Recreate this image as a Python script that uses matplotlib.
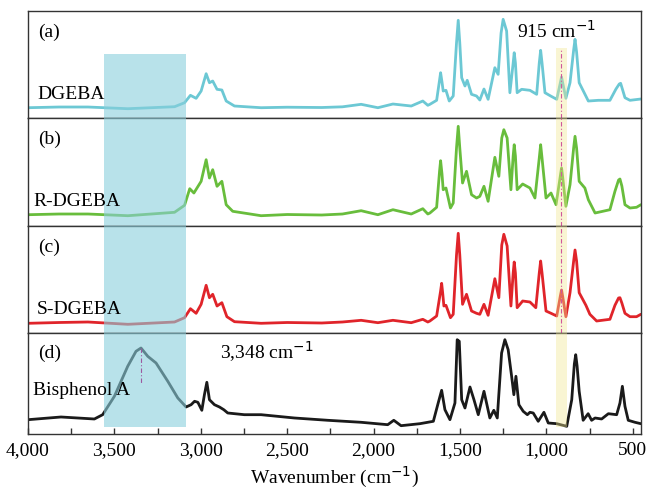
import numpy as np
import matplotlib.pyplot as plt
from matplotlib.ticker import MultipleLocator, FuncFormatter

# FT-IR spectra: (wavenumber cm-1, intensity a.u.)
dgeba = [(4000, 10.3), (3820, 11), (3653, 11), (3422, 9.3), (3152, 11.3), (3094, 15.3),
         (3060, 22.7), (3027, 19.7), (2998, 27), (2969, 44.3), (2950, 35.3), (2931, 37),
         (2906, 28.7), (2878, 28), (2853, 17), (2805, 12), (2651, 10.3), (2500, 10.8),
         (2300, 10.5), (2180, 11.2), (2072, 13.7), (1975, 10.3), (1888, 14), (1782, 12),
         (1715, 17), (1686, 12.7), (1674, 13.7), (1635, 17.7), (1618, 38), (1612, 45.3),
         (1604, 36), (1597, 27), (1581, 27.7), (1562, 17), (1539, 22), (1520, 75), (1510, 97.7),
         (1501, 75), (1490, 40.3), (1471, 32), (1458, 37.7), (1433, 23.7), (1404, 22),
         (1385, 18), (1361, 29), (1337, 18.7), (1298, 50.3), (1279, 43.7), (1262, 85),
         (1250, 98.7), (1230, 87), (1211, 25.3), (1192, 55), (1186, 65.3), (1179, 55),
         (1169, 25.3), (1143, 28.7), (1095, 27.7), (1056, 23.7), (1041, 55), (1033, 67.7),
         (1025, 55), (1008, 25.3), (975, 22), (940, 18.7), (918, 36), (912, 41), (904, 34),
         (887, 19.7), (863, 35.3), (842, 68), (834, 78.7), (825, 66), (810, 35.3), (781, 25.3),
         (757, 17), (699, 17.7), (632, 17.7), (597, 29), (578, 34), (570, 34.7), (560, 29),
         (545, 20.3), (516, 17.7), (468, 18.7), (453, 19)]

r_dgeba = [(4000, 11.3), (3820, 12), (3653, 12), (3422, 10.3), (3152, 13.7), (3094, 20.7),
           (3064, 37.3), (3040, 33), (2998, 44.7), (2969, 66.3), (2950, 48), (2931, 56.3),
           (2906, 39.7), (2878, 44.7), (2853, 21.3), (2815, 14.7), (2651, 10.3), (2500, 11.5),
           (2300, 11), (2180, 12), (2072, 15.3), (1975, 11.3), (1888, 16.3), (1782, 12),
           (1715, 17.3), (1686, 12), (1674, 13), (1635, 18.7), (1618, 55), (1612, 65.3),
           (1604, 52), (1597, 36.3), (1581, 38), (1555, 18), (1539, 23), (1520, 78), (1510, 99.7),
           (1501, 78), (1485, 43), (1462, 54.7), (1433, 31.3), (1404, 28), (1385, 29.7),
           (1361, 39.7), (1337, 24.7), (1298, 68.7), (1275, 49.7), (1258, 88), (1246, 96.3),
           (1227, 88), (1205, 36.3), (1192, 70), (1186, 81.3), (1179, 70), (1169, 36.3),
           (1137, 42), (1095, 38), (1066, 28), (1041, 68), (1033, 81.3), (1025, 68), (1002, 28),
           (973, 33), (944, 21.3), (919, 50), (912, 58), (905, 48), (887, 19.7), (863, 41.3),
           (842, 78), (834, 89.7), (825, 78), (810, 44.7), (777, 38), (757, 26.3), (718, 13),
           (632, 16.3), (603, 34.7), (582, 46), (574, 47), (563, 40), (545, 21.3), (516, 18),
           (478, 18.7), (453, 21.3)]

s_dgeba = [(4000, 9.7), (3820, 10.5), (3653, 11), (3422, 8.7), (3152, 11), (3094, 15.3),
           (3060, 24.3), (3027, 19.7), (2998, 28.7), (2969, 47.7), (2950, 35.3), (2931, 38.7),
           (2906, 27), (2878, 30.3), (2849, 16.3), (2805, 11.3), (2651, 9.7), (2500, 10.5),
           (2300, 10), (2180, 11), (2072, 12.7), (1975, 10.3), (1888, 12.7), (1782, 10.3),
           (1715, 13.7), (1686, 11), (1674, 12), (1635, 17), (1612, 42), (1606, 49.7), (1600, 40),
           (1593, 27), (1581, 27.7), (1555, 15.3), (1539, 18.7), (1520, 78), (1510, 99.7),
           (1501, 78), (1485, 28.7), (1462, 38.7), (1433, 22), (1404, 19.7), (1385, 18.7),
           (1361, 28.7), (1337, 17.7), (1298, 54.3), (1275, 35.3), (1258, 88), (1246, 98.7),
           (1227, 87), (1205, 27), (1192, 60), (1186, 71), (1179, 60), (1169, 25.3), (1137, 32),
           (1095, 31), (1061, 25.3), (1041, 60), (1033, 72), (1025, 60), (1002, 22), (973, 19.7),
           (940, 17), (919, 37), (912, 43), (905, 36), (887, 16.3), (863, 40.3), (842, 72),
           (834, 83), (825, 72), (810, 40.3), (771, 27.7), (748, 18.7), (709, 12), (632, 13.7),
           (603, 27.7), (582, 35), (574, 35.3), (563, 30), (545, 19.7), (516, 16.3), (478, 16.3),
           (453, 18.7)]

bisphenol_a = [(4000, 14.3), (3809, 17), (3616, 15), (3568, 19.3), (3500, 37.7), (3423, 67.7),
               (3375, 82.7), (3346, 86), (3307, 77.7), (3259, 71), (3191, 52.7), (3133, 36),
               (3085, 27), (3056, 29.3), (3036, 32.7), (3017, 31.7), (2994, 23.7), (2979, 39.3),
               (2965, 51.7), (2950, 34.3), (2921, 29.3), (2892, 27), (2867, 24.3), (2844, 21),
               (2748, 19.3), (2651, 19.3), (2458, 16), (2265, 13.7), (2072, 11.7), (1918, 9.3),
               (1883, 13.7), (1841, 8.3), (1732, 10.3), (1654, 12.7), (1626, 31), (1606, 43.7),
               (1587, 24.3), (1558, 14.3), (1529, 31), (1516, 94.3), (1504, 92.7), (1490, 34.3),
               (1471, 26), (1442, 47), (1419, 34.3), (1394, 19.3), (1361, 42.7), (1327, 16),
               (1304, 23.7), (1284, 16), (1259, 81), (1240, 94.3), (1221, 84.3), (1201, 57.7),
               (1188, 39.3), (1176, 57.7), (1159, 29.3), (1134, 22.7), (1110, 19.3), (1095, 21.7),
               (1076, 21), (1047, 12.7), (1014, 21.7), (989, 11), (940, 10.3), (882, 7.7),
               (853, 34.3), (838, 70), (830, 79.3), (822, 68), (810, 42.7), (787, 13.7),
               (758, 20.3), (738, 13.7), (718, 16), (680, 15), (641, 20.3), (593, 19.3), (574, 31),
               (560, 47.7), (545, 27.7), (526, 13.7), (487, 11.7), (453, 10.3)]

panels = [(dgeba, '#6cc8d4', '(a)'),
          (r_dgeba, '#68bd3c', '(b)'),
          (s_dgeba, '#e0242a', '(c)'),
          (bisphenol_a, '#1a1a1a', '(d)')]
names = ['DGEBA', 'R-DGEBA', 'S-DGEBA', 'Bisphenol A']
heights = [107, 108, 107, 101]

plt.rcParams['font.family'] = ['Liberation Serif', 'DejaVu Serif']

fig = plt.figure(figsize=(6.5, 4.92), dpi=100)
gs = fig.add_gridspec(4, 1, height_ratios=heights, hspace=0,
                      left=0.0431, right=0.9862, bottom=0.1179, top=0.9776)

# vertical extent (axes fraction) of the highlighted bands in each panel
blue_ranges = [(0, 0.598), (0, 1), (0, 1), (0.07, 1)]
yellow_ranges = [(0, 0.654), (0, 1), (0, 1), (0.07, 1)]

axes = []
for i, (spec, col, tag) in enumerate(panels):
    ax = fig.add_subplot(gs[i])
    axes.append(ax)
    wn, inten = zip(*spec)
    ax.plot(wn, inten, color=col, lw=2.0, zorder=2,
            solid_joinstyle='round', solid_capstyle='round')
    ax.set_xlim(4000, 452)
    ax.set_ylim(0, heights[i])
    ax.set_yticks([])
    ax.axvspan(3562, 3083, ymin=blue_ranges[i][0], ymax=blue_ranges[i][1],
               color='#8acfdc', alpha=0.6, lw=0, zorder=3)
    ax.axvspan(944, 879, ymin=yellow_ranges[i][0], ymax=yellow_ranges[i][1],
               facecolor='#f1e791', alpha=0.4, lw=0, zorder=3)
    if i < 3:
        ax.axvline(915, ymin=0, ymax=yellow_ranges[i][1], color='#d0569a', lw=0.8,
                   ls=(0, (4, 2, 1, 2)), zorder=4)
    ax.text(0.016, 0.80, tag, transform=ax.transAxes, fontsize=14, va='center', ha='left')
    for s in ax.spines.values():
        s.set_color('#333333')
        s.set_linewidth(1.0)
    if i < 3:
        ax.tick_params(axis='x', which='both', bottom=False, labelbottom=False)

axes[0].text(3944, 19, names[0], fontsize=14, va='baseline')
axes[1].text(3969, 20, names[1], fontsize=14, va='baseline')
axes[2].text(3952, 19, names[2], fontsize=14, va='baseline')
axes[3].text(3969, 39, names[3], fontsize=14, va='baseline', zorder=5)
axes[3].text(2890, 75, '3,348 cm$^{-1}$', fontsize=14, va='baseline')
axes[0].text(1170, 80, '915 cm$^{-1}$', fontsize=14, va='baseline')
axes[3].plot([3348, 3348], [86, 51], color='#9b5aa0', lw=0.8, ls=(0, (4, 2, 1, 2)), zorder=4)

ax = axes[3]
ax.xaxis.set_major_locator(MultipleLocator(500))
ax.xaxis.set_minor_locator(MultipleLocator(250))
ax.xaxis.set_major_formatter(FuncFormatter(lambda v, p: f'{int(v):,}'))
ax.tick_params(axis='x', which='both', direction='in', length=4, width=1, color='#333333',
               labelsize=14, pad=6)
ax.set_xlabel('Wavenumber (cm$^{-1}$)', fontsize=14, labelpad=4)

fig.savefig('out.png', dpi=100)
